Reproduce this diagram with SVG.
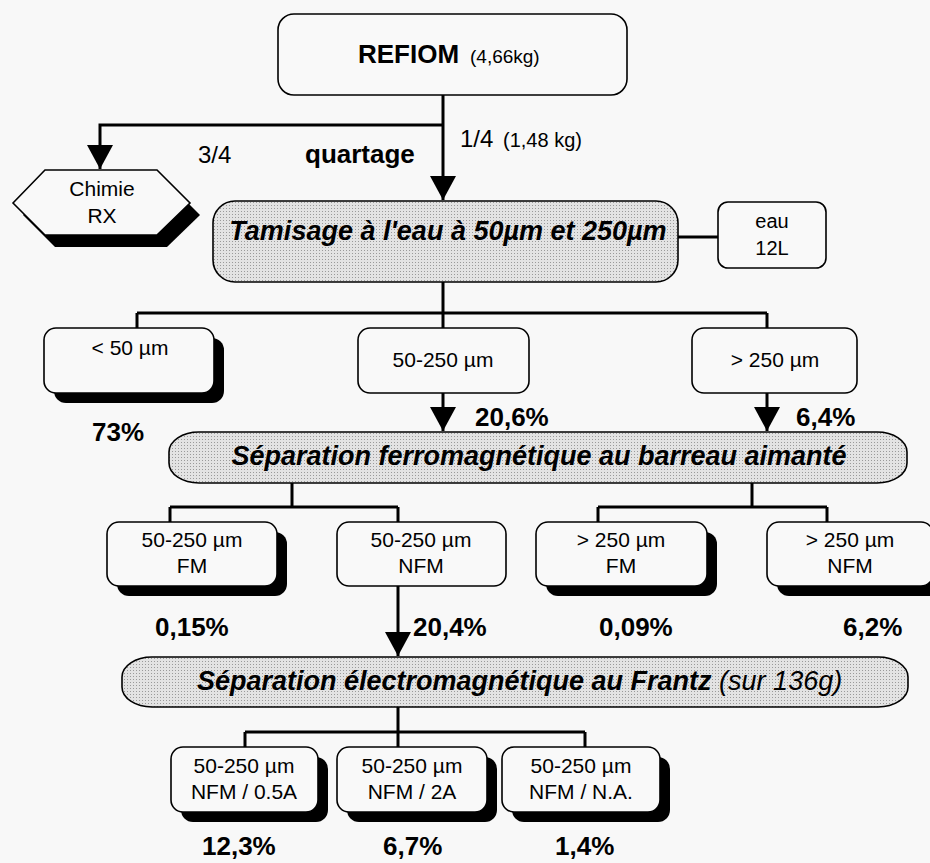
<svg xmlns="http://www.w3.org/2000/svg" width="930" height="863" viewBox="0 0 930 863">
<defs>
<pattern id="stip" width="3" height="3" patternUnits="userSpaceOnUse">
<rect width="3" height="3" fill="#e3e3e3"/>
<rect x="1" y="1" width="1" height="1" fill="#9a9a9a"/>
</pattern>
<marker id="arr" markerUnits="userSpaceOnUse" markerWidth="24" markerHeight="26" refX="24" refY="13" orient="auto">
<path d="M0,0 L24,13 L0,26 Z" fill="#000"/>
</marker>
<style>
text{font-family:"Liberation Sans",Arial,sans-serif;fill:#000}
.box{fill:#f9f9f9;stroke:#000;stroke-width:1.6}
.sh{fill:#000}
.proc{fill:url(#stip);stroke:#000;stroke-width:1.6}
.lbl{font-size:21px;text-anchor:middle}
.pct{font-size:26px;font-weight:bold}
.ptxt{font-size:27px;font-weight:bold;font-style:italic}
.con{fill:none;stroke:#000;stroke-width:3}
</style>
</defs>
<rect width="930" height="863" fill="#f8f8f8"/>

<g id="connectors">
<path class="con" d="M443,95 V200" marker-end="url(#arr)"/>
<path class="con" d="M443,125 H100 V169" marker-end="url(#arr)"/>
<path class="con" d="M678,237 H718"/>
<path class="con" d="M443,282 V313 M137,313 H767 M137,313 V328 M443,313 V328 M767,313 V328"/>
<path class="con" d="M443,393 V431" marker-end="url(#arr)"/>
<path class="con" d="M767,393 V431" marker-end="url(#arr)"/>
<path class="con" d="M292,483 V507 M170,507 H398 M170,507 V522 M398,507 V522"/>
<path class="con" d="M752,483 V507 M598,507 H827 M598,507 V522 M827,507 V522"/>
<path class="con" d="M398,586 V656" marker-end="url(#arr)"/>
<path class="con" d="M398,707 V732 M245,732 H585 M245,732 V747 M398,732 V747 M585,732 V747"/>
</g>

<g id="refiom">
<rect class="box" x="278" y="14" width="349" height="81" rx="16"/>
<text x="358" y="63" style="font-size:26px;font-weight:bold">REFIOM</text>
<text x="470" y="63" style="font-size:19px">(4,66kg)</text>
</g>

<g id="labels-top">
<text x="198" y="163" style="font-size:24px">3/4</text>
<text x="305" y="163" style="font-size:26px;font-weight:bold">quartage</text>
<text x="460" y="147" style="font-size:24px">1/4</text>
<text x="503" y="147" style="font-size:20px">(1,48 kg)</text>
</g>

<g id="chimie">
<polygon class="sh" points="23,215 55,182 167,182 200,215 167,247 55,247"/>
<polygon class="box" points="13,203 45,170 157,170 190,203 157,235 45,235"/>
<text class="lbl" x="102" y="196">Chimie</text>
<text class="lbl" x="102" y="223">RX</text>
</g>

<g id="tamisage">
<rect class="proc" x="213" y="201" width="465" height="81" rx="22"/>
<text class="ptxt" x="448" y="240" text-anchor="middle">Tamisage à l'eau à 50µm et 250µm</text>
</g>

<g id="eau">
<rect class="box" x="718" y="202" width="108" height="66" rx="10"/>
<text class="lbl" x="772" y="228" style="font-size:20px">eau</text>
<text class="lbl" x="772" y="255" style="font-size:20px">12L</text>
</g>

<g id="lt50">
<rect class="sh" x="54" y="338" width="170" height="65" rx="12"/>
<rect class="box" x="44" y="328" width="170" height="65" rx="12"/>
<text class="lbl" x="130" y="355">&lt; 50 µm</text>
</g>
<text class="pct" x="92" y="441">73%</text>

<g id="m50-250">
<rect class="box" x="358" y="328" width="171" height="65" rx="12"/>
<text class="lbl" x="443" y="367">50-250 µm</text>
</g>
<text class="pct" x="475" y="426">20,6%</text>

<g id="gt250">
<rect class="box" x="692" y="328" width="165" height="65" rx="12"/>
<text class="lbl" x="775" y="367">&gt; 250 µm</text>
</g>
<text class="pct" x="796" y="426">6,4%</text>

<g id="ferro">
<rect class="proc" x="169" y="432" width="738" height="51" rx="30" ry="20"/>
<text class="ptxt" x="539" y="465" text-anchor="middle">Séparation ferromagnétique au barreau aimanté</text>
</g>

<g id="fm50">
<rect class="sh" x="117" y="532" width="170" height="64" rx="12"/>
<rect class="box" x="107" y="522" width="170" height="64" rx="12"/>
<text class="lbl" x="192" y="547">50-250 µm</text>
<text class="lbl" x="192" y="573">FM</text>
</g>
<text class="pct" x="155" y="636">0,15%</text>

<g id="nfm50">
<rect class="box" x="337" y="522" width="169" height="64" rx="12"/>
<text class="lbl" x="421" y="547">50-250 µm</text>
<text class="lbl" x="421" y="573">NFM</text>
</g>
<text class="pct" x="413" y="636">20,4%</text>

<g id="fm250">
<rect class="sh" x="546" y="532" width="171" height="64" rx="12"/>
<rect class="box" x="536" y="522" width="171" height="64" rx="12"/>
<text class="lbl" x="621" y="547">&gt; 250 µm</text>
<text class="lbl" x="621" y="573">FM</text>
</g>
<text class="pct" x="599" y="636">0,09%</text>

<g id="nfm250">
<rect class="sh" x="777" y="532" width="166" height="64" rx="12"/>
<rect class="box" x="767" y="522" width="166" height="64" rx="12"/>
<text class="lbl" x="850" y="547">&gt; 250 µm</text>
<text class="lbl" x="850" y="573">NFM</text>
</g>
<text class="pct" x="843" y="636">6,2%</text>

<g id="frantz">
<rect class="proc" x="122" y="657" width="786" height="50" rx="30" ry="20"/>
<text x="197" y="690" style="font-size:27px;font-style:italic"><tspan font-weight="bold">Séparation électromagnétique au Frantz</tspan> (sur 136g)</text>
</g>

<g id="nfm05">
<rect class="sh" x="181" y="757" width="147" height="65" rx="12"/>
<rect class="box" x="171" y="747" width="147" height="65" rx="12"/>
<text class="lbl" x="244" y="773">50-250 µm</text>
<text class="lbl" x="244" y="799">NFM / 0.5A</text>
</g>
<text class="pct" x="202" y="855">12,3%</text>

<g id="nfm2">
<rect class="sh" x="347" y="757" width="150" height="65" rx="12"/>
<rect class="box" x="337" y="747" width="150" height="65" rx="12"/>
<text class="lbl" x="412" y="773">50-250 µm</text>
<text class="lbl" x="412" y="799">NFM / 2A</text>
</g>
<text class="pct" x="383" y="855">6,7%</text>

<g id="nfmna">
<rect class="sh" x="512" y="757" width="158" height="65" rx="12"/>
<rect class="box" x="502" y="747" width="158" height="65" rx="12"/>
<text class="lbl" x="581" y="773">50-250 µm</text>
<text class="lbl" x="581" y="799">NFM / N.A.</text>
</g>
<text class="pct" x="555" y="855">1,4%</text>
</svg>
